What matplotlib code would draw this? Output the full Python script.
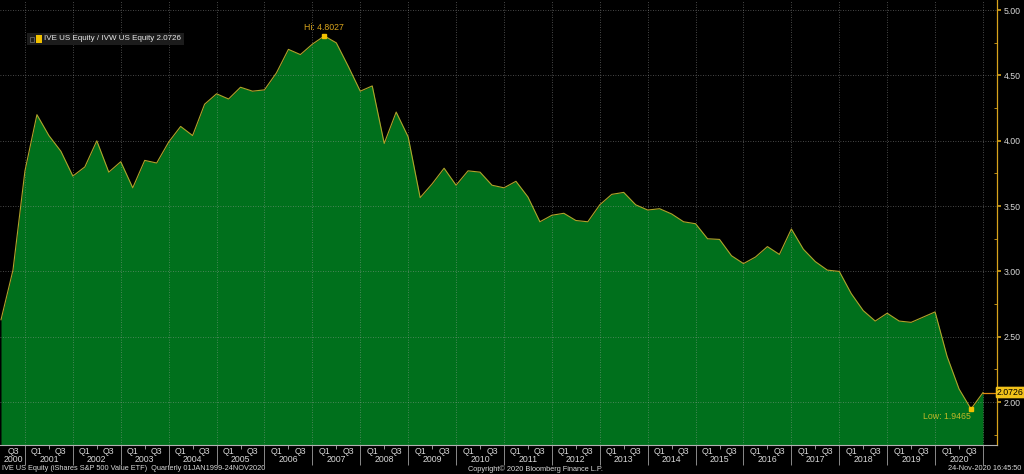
import matplotlib
matplotlib.use("Agg")
import matplotlib.pyplot as plt
from matplotlib import font_manager
from matplotlib.transforms import blended_transform_factory
import numpy as np

# quarterly ratio IVE / IVW, 2000 Q2 .. 2020 Q4 (points at quarter end)
ratio = [
    2.63, 3.01, 3.77,
    4.20, 4.04, 3.92, 3.73,
    3.80, 4.00, 3.76, 3.84,
    3.64, 3.85, 3.83, 3.99,
    4.11, 4.04, 4.28, 4.36,
    4.32, 4.41, 4.38, 4.39,
    4.52, 4.70, 4.66, 4.74,
    4.8027, 4.75, 4.57, 4.38,
    4.42, 3.98, 4.22, 4.03,
    3.565, 3.67, 3.79, 3.66,
    3.77, 3.76, 3.66, 3.64,
    3.69, 3.57, 3.38, 3.43,
    3.445, 3.39, 3.38, 3.51,
    3.59, 3.605, 3.51, 3.47,
    3.48, 3.44, 3.38, 3.365,
    3.25, 3.245, 3.12, 3.06,
    3.11, 3.19, 3.13, 3.325,
    3.17, 3.075, 3.01, 3.00,
    2.83, 2.70, 2.62, 2.68,
    2.62, 2.61, 2.65, 2.69,
    2.35, 2.10, 1.9465, 2.0726,
]
years = list(range(2001, 2021))
y_ticks = [2.0, 2.5, 3.0, 3.5, 4.0, 4.5, 5.0]
last_value = 2.0726
hi_value = 4.8027
low_value = 1.9465

BG = "black"
FILL = "#00701c"
LINE = "#b0a42a"
GOLD = "#d8a41c"
TXT = "#d8d8d8"

# Bloomberg uses a narrow face; take the narrowest one that is installed
installed = {f.name for f in font_manager.fontManager.ttflist}
if "Liberation Sans Narrow" in installed:
    base, FS, FS_SMALL, FS_LEG = "Liberation Sans Narrow", 7, 6.5, 7
elif "Liberation Sans" in installed:
    base, FS, FS_SMALL, FS_LEG = "Liberation Sans", 6.3, 5.3, 5.8
else:
    base, FS, FS_SMALL, FS_LEG = "DejaVu Sans", 5.6, 5, 5.2
plt.rcParams["font.family"] = [base, "DejaVu Sans"]

fig = plt.figure(figsize=(10.24, 4.74), dpi=100, facecolor=BG)
ax = fig.add_axes([0, 29 / 474, 997 / 1024, 445 / 474], facecolor=BG)

x = np.arange(len(ratio))
ylo, yhi = 1.671, 5.078
ax.fill_between(x, ratio, ylo, color=FILL, lw=0, zorder=1)
ax.plot(x, ratio, color=LINE, lw=0.8, zorder=3)
ax.set_xlim(-0.084, 83.17)
ax.set_ylim(ylo, yhi)

# grid
bounds = [2 + 4 * k for k in range(len(years) + 1)]
for b in bounds:
    ax.axvline(b, color="#a0a0a0", lw=0.6, ls=(0, (1, 2)), alpha=0.6, zorder=2)
for v in y_ticks:
    ax.axhline(v, color="#a0a0a0", lw=0.6, ls=(0, (1, 2)), alpha=0.6, zorder=2)

# right axis
for s in ["left", "top"]:
    ax.spines[s].set_visible(False)
ax.spines["right"].set_color(GOLD)
ax.spines["right"].set_linewidth(0.9)
ax.spines["bottom"].set_color("#b0b0b0")
ax.spines["bottom"].set_linewidth(0.8)
ax.yaxis.tick_right()
ax.set_yticks(y_ticks)
ax.set_yticklabels([f"{v:.2f}" for v in y_ticks])
ax.set_yticks(np.arange(1.75, 5.01, 0.5), minor=True)
ax.tick_params(axis="y", which="major", colors=GOLD, length=3, width=1.2,
               labelcolor=TXT, labelsize=FS, pad=2)
ax.tick_params(axis="y", which="minor", colors=GOLD, length=2, width=0.6,
               direction="in")
ax.set_xticks([])

# bottom quarter / year labels
tr = blended_transform_factory(ax.transData, fig.transFigure)
trv = blended_transform_factory(ax.transData, ax.transAxes)
q_y = 1 - 451 / 474
yr_y = 1 - 459.5 / 474
ax.text(1, q_y, "Q3", transform=tr, color=TXT, fontsize=FS, ha="center", va="center")
ax.text(1, yr_y, "2000", transform=tr, color=TXT, fontsize=FS, ha="center", va="center")
for k, yr in enumerate(years):
    b = bounds[k]
    ax.text(b + 1, q_y, "Q1", transform=tr, color=TXT, fontsize=FS, ha="center", va="center")
    ax.text(b + 3, q_y, "Q3", transform=tr, color=TXT, fontsize=FS, ha="center", va="center")
    ax.text(b + 2, yr_y, str(yr), transform=tr, color=TXT, fontsize=FS, ha="center", va="center")
    ax.vlines(b + 2, -4 / 445, 0, transform=trv, color="#b0b0b0", lw=0.6, clip_on=False)
ax.vlines(bounds, -20 / 445, 0, transform=trv, color="#8a8a8a", lw=0.7, clip_on=False)

# hi / low markers
i_hi = int(np.argmax(ratio))
i_lo = int(np.argmin(ratio))
ax.plot([i_hi, i_lo], [ratio[i_hi], ratio[i_lo]], "s", ms=3, color="#f0c000", zorder=4)
ax.annotate(f"Hi: {hi_value:.4f}", (i_hi, ratio[i_hi]), xytext=(0, 3),
            textcoords="offset points", ha="center", va="bottom",
            color=GOLD, fontsize=FS, zorder=5)
ax.annotate(f"Low: {low_value:.4f}", (i_lo, ratio[i_lo]), xytext=(0, -2.5),
            textcoords="offset points", ha="right", va="top",
            color="#c0b828", fontsize=FS, zorder=5)

# last value flag
ax.plot([x[-1], 83.17], [last_value, last_value], color="#e08a10", lw=0.9,
        clip_on=False, zorder=4)
fig.text(1010.5 / 1024, 1 - 392.5 / 474, f"{last_value:.4f}", color="black",
         fontsize=FS, ha="center", va="center",
         bbox=dict(boxstyle="round,pad=0.15", fc="#f2c21a", ec="none"))

# legend box, sized to its text
leg = fig.text(44 / 1024, 1 - 39 / 474, f"IVE US Equity / IVW US Equity {last_value:.4f}",
               color="#e8e8e8", fontsize=FS_LEG, ha="left", va="center", zorder=5)
fig.canvas.draw()
leg_w = leg.get_window_extent().width + 20
fig.patches.append(plt.Rectangle((27 / 1024, 1 - 45 / 474), leg_w / 1024, 12 / 474,
                                 transform=fig.transFigure, fc="#1c1c1c", ec="none"))
fig.patches.append(plt.Rectangle((30 / 1024, 1 - 41.5 / 474), 4 / 1024, 5 / 474,
                                 transform=fig.transFigure, fc="none", ec="#777777", lw=0.5))
fig.patches.append(plt.Rectangle((36 / 1024, 1 - 42.5 / 474), 6 / 1024, 7 / 474,
                                 transform=fig.transFigure, fc="#f0c000", ec="none"))

# footer
fy = 1 - 469 / 474
fig.text(2 / 1024, fy, "IVE US Equity (iShares S&P 500 Value ETF)  Quarterly 01JAN1999-24NOV2020",
         color=TXT, fontsize=FS_SMALL, ha="left", va="center")
fig.text(535 / 1024, fy, "Copyright© 2020 Bloomberg Finance L.P.",
         color=TXT, fontsize=FS_SMALL, ha="center", va="center")
fig.text(1021 / 1024, fy, "24-Nov-2020 16:45:50",
         color=TXT, fontsize=FS_SMALL, ha="right", va="center")

fig.savefig("out.png", dpi=100, facecolor=BG)
